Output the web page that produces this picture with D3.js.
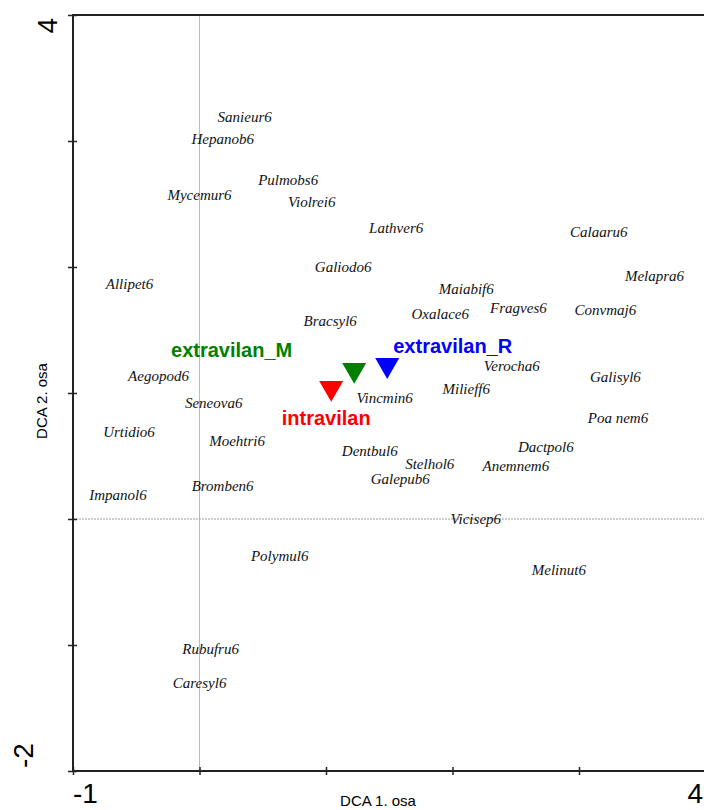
<!DOCTYPE html>
<html>
<head>
<meta charset="utf-8">
<script src="https://cdn.jsdelivr.net/npm/d3@7"></script>
<style>
  html, body { margin: 0; padding: 0; background: #fff; }
  svg { display: block; }
</style>
</head>
<body>
<script>
// DCA ordination: species scores and group centroids
const species = ["Sanieur6","Hepanob6","Pulmobs6","Mycemur6","Violrei6","Lathver6","Calaaru6",
  "Galiodo6","Melapra6","Allipet6","Maiabif6","Fragves6","Convmaj6","Oxalace6","Bracsyl6",
  "Verocha6","Aegopod6","Galisyl6","Milieff6","Vincmin6","Seneova6","Poa nem6","Urtidio6",
  "Moehtri6","Dactpol6","Dentbul6","Stelhol6","Anemnem6","Galepub6","Bromben6","Impanol6",
  "Vicisep6","Polymul6","Melinut6","Rubufru6","Caresyl6"];
const speciesAx1 = [0.357,0.183,0.701,0.00,0.887,1.555,3.157,
  1.136,3.597,-0.553,2.109,2.521,3.209,1.903,1.033,
  2.469,-0.324,3.288,2.109,1.464,0.112,3.308,-0.557,
  0.297,2.738,1.346,1.820,2.501,1.587,0.183,-0.644,
  2.184,0.634,2.841,0.088,0.001];
const speciesAx2 = [3.19,3.02,2.69,2.57,2.52,2.31,2.28,
  2.00,1.93,1.87,1.83,1.68,1.66,1.63,1.57,
  1.22,1.14,1.13,1.03,0.96,0.92,0.80,0.69,
  0.62,0.57,0.54,0.44,0.42,0.32,0.26,0.19,
  0.00,-0.29,-0.40,-1.03,-1.30];

const groups = ["intravilan","extravilan_M","extravilan_R"];
const groupAx1 = [1.041,1.223,1.484];
const groupAx2 = [1.04,1.183,1.222];
const groupColors = ["#ff0000","#008000","#0000ff"];

const xDomain = [-1, 4];
const yDomain = [-2, 4];
const xTickValues = [-1, 0, 1, 2, 3, 4];
const yTickValues = [-2, -1, 0, 1, 2, 3, 4];
const xTickLabels = ["-1", "4"];
const yTickLabels = ["-2", "4"];
const xTitle = "DCA 1. osa";
const yTitle = "DCA 2. osa";

const W = 704, H = 810;
const plot = { left: 73, right: 705.5, top: 15, bottom: 771 };

const svg = d3.select("body").append("svg").attr("width", W).attr("height", H);

const x = d3.scaleLinear().domain(xDomain).range([plot.left, plot.right]);
const y = d3.scaleLinear().domain(yDomain).range([plot.bottom, plot.top]);

// zero reference lines
svg.append("line")
  .attr("x1", x(0)).attr("x2", x(0)).attr("y1", plot.top).attr("y2", plot.bottom)
  .attr("stroke", "#bbb").attr("stroke-width", 1);
svg.append("line")
  .attr("x1", plot.left).attr("x2", W).attr("y1", y(0)).attr("y2", y(0))
  .attr("stroke", "#999").attr("stroke-width", 1).attr("stroke-dasharray", "2,1");

// axes with ticks crossing the frame
const xAxis = svg.append("g").attr("transform", `translate(0,${plot.bottom})`)
  .call(d3.axisBottom(x).tickValues(xTickValues).tickSize(4).tickFormat(""));
const yAxis = svg.append("g").attr("transform", `translate(${plot.left},0)`)
  .call(d3.axisLeft(y).tickValues(yTickValues).tickSize(5).tickFormat(""));
xAxis.select(".domain").remove();
yAxis.select(".domain").remove();
xAxis.selectAll(".tick line").attr("y1", -4).attr("stroke", "#222").attr("stroke-width", 1.5);
yAxis.selectAll(".tick line").attr("x1", 4).attr("stroke", "#222").attr("stroke-width", 1.5);

// frame: left, bottom, top
svg.append("path")
  .attr("d", `M${W},${plot.top}H${plot.left}V${plot.bottom}H${W}`)
  .attr("fill", "none").attr("stroke", "#222").attr("stroke-width", 2);

// axis end labels
const big = { "font-family": "'Liberation Sans', Arial, sans-serif", "font-size": "28px", "fill": "#000" };
function styleText(sel, st) { Object.entries(st).forEach(([k, v]) => sel.attr(k, v)); return sel; }

styleText(svg.append("text"), big).attr("x", x(xDomain[0])).attr("y", 803)
  .attr("text-anchor", "start").text(xTickLabels[0]);
styleText(svg.append("text"), big).attr("x", W - 1).attr("y", 803)
  .attr("text-anchor", "end").text(xTickLabels[1]);
styleText(svg.append("text"), big)
  .attr("transform", `translate(33,${y(yDomain[0]) - 3}) rotate(-90)`)
  .attr("text-anchor", "start").text(yTickLabels[0]);
styleText(svg.append("text"), big)
  .attr("transform", `translate(57,${y(yDomain[1]) + 3}) rotate(-90)`)
  .attr("text-anchor", "end").text(yTickLabels[1]);

// axis titles
svg.append("text")
  .attr("x", 378).attr("y", 806)
  .attr("text-anchor", "middle")
  .attr("font-family", "'Liberation Sans', Arial, sans-serif").attr("font-size", "15px")
  .text(xTitle);
svg.append("text")
  .attr("transform", `translate(47,401) rotate(-90)`)
  .attr("text-anchor", "middle")
  .attr("font-family", "'Liberation Sans', Arial, sans-serif").attr("font-size", "15px")
  .text(yTitle);

// species labels centred on their scores
svg.append("g").selectAll("text")
  .data(species.map((s, i) => ({ name: s, a1: speciesAx1[i], a2: speciesAx2[i] })))
  .join("text")
  .attr("x", d => x(d.a1)).attr("y", d => y(d.a2))
  .attr("dy", "0.35em")
  .attr("text-anchor", "middle")
  .attr("font-family", "'Liberation Serif', 'Times New Roman', serif")
  .attr("font-style", "italic").attr("font-size", "15px")
  .attr("fill", "#111")
  .text(d => d.name);

// group centroids as downward triangles
const tri = d3.symbol().type(d3.symbolTriangle).size(250);
const gData = groups.map((g, i) => ({ name: g, a1: groupAx1[i], a2: groupAx2[i], color: groupColors[i] }));
svg.append("g").selectAll("path")
  .data(gData).join("path")
  .attr("transform", d => `translate(${x(d.a1)},${y(d.a2)}) rotate(180)`)
  .attr("d", tri)
  .attr("fill", d => d.color);

// group names placed beside their markers
const labelPlacement = {
  "intravilan":   { dx: -5, dy: 37, anchor: "middle" },
  "extravilan_M": { dx: -62, dy: -13, anchor: "end" },
  "extravilan_R": { dx: 6, dy: -12, anchor: "start" }
};
svg.append("g").selectAll("text")
  .data(gData).join("text")
  .attr("x", d => x(d.a1) + labelPlacement[d.name].dx)
  .attr("y", d => y(d.a2) + labelPlacement[d.name].dy)
  .attr("text-anchor", d => labelPlacement[d.name].anchor)
  .attr("font-family", "'Liberation Sans', Arial, sans-serif")
  .attr("font-weight", "bold").attr("font-size", "20px")
  .attr("fill", d => d.color)
  .text(d => d.name);
</script>
</body>
</html>
